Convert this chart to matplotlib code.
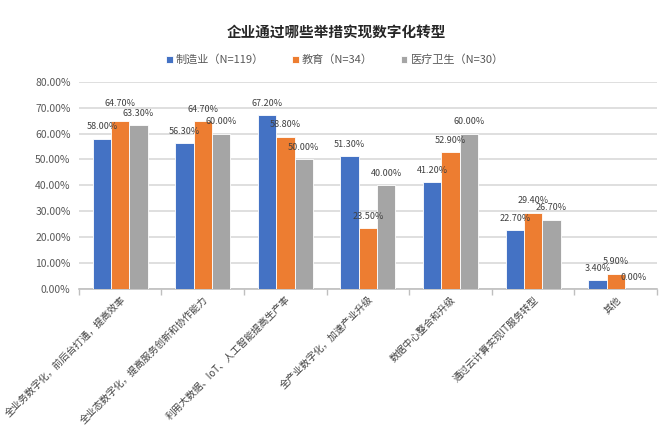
import matplotlib.pyplot as plt
import numpy as np

plt.rcParams['font.family'] = ['Noto Sans CJK SC', 'DejaVu Sans']

# data
categories = ["全业务数字化，前后台打通，提高效率",
              "全业态数字化，提高服务创新和协作能力",
              "利用大数据、IoT、人工智能提高生产率",
              "全产业数字化，加速产业升级",
              "数据中心整合和升级",
              "通过云计算实现IT服务转型",
              "其他"]
series_names = ["制造业（N=119）", "教育（N=34）", "医疗卫生（N=30）"]
manufacturing = [58.0, 56.3, 67.2, 51.3, 41.2, 22.7, 3.4]
education = [64.7, 64.7, 58.8, 23.5, 52.9, 29.4, 5.9]
healthcare = [63.3, 60.0, 50.0, 40.0, 60.0, 26.7, 0.0]
y_ticks = [0, 10, 20, 30, 40, 50, 60, 70, 80]

colors = ["#4472C4", "#ED7D31", "#A5A5A5"]

fig = plt.figure(figsize=(6.63, 4.33), dpi=100)
ax = fig.add_axes([0.119, 0.333, 0.872, 0.478])

x = np.arange(len(categories))
w = 0.222
for i, (vals, name) in enumerate(zip([manufacturing, education, healthcare], series_names)):
    pos = x + (i - 1) * w
    ax.bar(pos, vals, width=w, color=colors[i], edgecolor="white", linewidth=0.6, label=name, zorder=3)
    for j, (p, v) in enumerate(zip(pos, vals)):
        off = 8.5
        if i == 1 and j == 0:
            off = 13  # label sits higher in the original
        ax.annotate("%.2f%%" % v, (p, v), xytext=(0, off), textcoords="offset points",
                    ha="center", va="center", fontsize=6.5, color="#404040", zorder=4)

ax.set_xlim(-0.5, len(categories) - 0.5)
ax.set_ylim(0, 80)
ax.set_yticks(y_ticks)
ax.set_yticklabels(["%.2f%%" % t for t in y_ticks], fontsize=7.5, color="#595959")
ax.yaxis.grid(True, color="#D9D9D9", linewidth=1.2, zorder=0)
ax.tick_params(axis="y", length=0, pad=6)

ax.set_xticks(np.arange(len(categories) + 1) - 0.5)
ax.set_xticklabels([])
ax.set_xticks(x, minor=True)
ax.set_xticklabels(categories, minor=True, rotation=45, ha="right", va="top",
                   rotation_mode="anchor", fontsize=7, color="#404040")
ax.tick_params(axis="x", which="major", length=4, color="#BFBFBF", width=1)
ax.tick_params(axis="x", which="minor", length=0, pad=4)

for s in ["top", "right", "left"]:
    ax.spines[s].set_visible(False)
ax.spines["bottom"].set_color("#BFBFBF")
ax.spines["bottom"].set_linewidth(1.2)

fig.text(0.508, 0.928, "企业通过哪些举措实现数字化转型", ha="center", va="center",
         fontsize=10.5, fontweight="bold", color="#262626")
fig.legend(loc="center", bbox_to_anchor=(0.505, 0.862), ncol=3, frameon=False,
           fontsize=8, handlelength=0.6, handleheight=0.6, handletextpad=0.3,
           columnspacing=2.5, labelcolor="#595959")

fig.savefig("out.png", dpi=100)
